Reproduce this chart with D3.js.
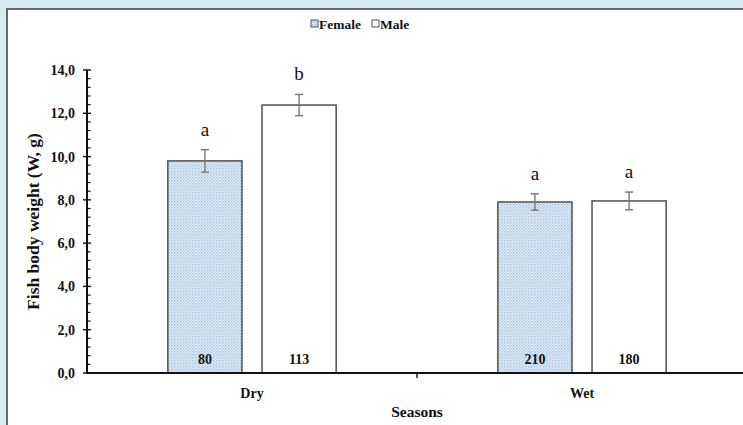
<!DOCTYPE html>
<html>
<head>
<meta charset="utf-8">
<script src="https://cdn.jsdelivr.net/npm/d3@7/dist/d3.min.js"></script>
<style>
  html, body { margin: 0; padding: 0; background: #d7ecf2; }
  svg { display: block; }
</style>
</head>
<body>
<svg id="chart" width="743" height="425"></svg>
<script>
// Fish body weight by season and sex
const seasons = ["Dry", "Wet"];
const sexes = ["Female", "Male"];
const meanWeight = { Female: [9.8, 7.9], Male: [12.38, 7.95] };
const stdError = { Female: [0.52, 0.38], Male: [0.49, 0.41] };
const sampleSize = { Female: [80, 210], Male: [113, 180] };
const groupLetters = { Female: ["a", "a"], Male: ["b", "a"] };
const yTicks = [0, 2, 4, 6, 8, 10, 12, 14];

const serif = "'Liberation Serif', 'Times New Roman', serif";
const ink = "#111";
const svg = d3.select("#chart");

// framed white panel
svg.append("rect").attr("x", 7).attr("y", 9).attr("width", 800).attr("height", 500)
  .attr("fill", "#fff").attr("stroke", "#3a3a3a").attr("stroke-width", 1.5);

// dotted fill for female bars
const defs = svg.append("defs");
const pat = defs.append("pattern").attr("id", "dots").attr("patternUnits", "userSpaceOnUse")
  .attr("width", 3).attr("height", 3);
pat.append("rect").attr("width", 3).attr("height", 3).attr("fill", "#e9f1fa");
pat.append("rect").attr("x", 0).attr("y", 0).attr("width", 1.5).attr("height", 1.5).attr("fill", "#9fbfe0");
pat.append("rect").attr("x", 1.5).attr("y", 1.5).attr("width", 1.5).attr("height", 1.5).attr("fill", "#b9d1ea");

const plotLeft = 87, plotRight = 747, plotTop = 70, plotBottom = 373;

const y = d3.scaleLinear().domain([0, 14]).range([plotBottom, plotTop]);
const x0 = d3.scaleBand().domain(seasons).range([plotLeft, plotRight])
  .paddingInner(0.49).paddingOuter(0.245);
const x1 = d3.scaleBand().domain(sexes).range([0, x0.bandwidth()]).paddingInner(0.213);

const fillOf = s => s === "Female" ? "url(#dots)" : "#fff";

// bars, error bars, labels
seasons.forEach((season, i) => {
  sexes.forEach(sex => {
    const m = meanWeight[sex][i], se = stdError[sex][i];
    const bx = x0(season) + x1(sex), bw = x1.bandwidth(), cx = bx + bw / 2;
    svg.append("rect").attr("x", bx).attr("y", y(m)).attr("width", bw)
      .attr("height", y(0) - y(m)).attr("fill", fillOf(sex))
      .attr("stroke", "#505050").attr("stroke-width", 1.5);
    const eb = svg.append("g").attr("stroke", "#777").attr("stroke-width", 1.4);
    eb.append("line").attr("x1", cx).attr("x2", cx).attr("y1", y(m + se)).attr("y2", y(m - se));
    eb.append("line").attr("x1", cx - 4).attr("x2", cx + 4).attr("y1", y(m + se)).attr("y2", y(m + se));
    eb.append("line").attr("x1", cx - 4).attr("x2", cx + 4).attr("y1", y(m - se)).attr("y2", y(m - se));
    svg.append("text").attr("x", cx).attr("y", y(m + se) - 14)
      .attr("text-anchor", "middle").attr("font-family", serif).attr("font-size", 19)
      .attr("fill", ink).text(groupLetters[sex][i]);
    svg.append("text").attr("x", cx).attr("y", plotBottom - 9)
      .attr("text-anchor", "middle").attr("font-family", serif).attr("font-size", 14)
      .attr("font-weight", "bold").attr("fill", ink).text(sampleSize[sex][i]);
  });
});

// y axis with minor ticks
const yAxis = d3.axisLeft(y).tickValues(yTicks).tickSize(0)
  .tickFormat(d => d3.format(".1f")(d).replace(".", ","));
const yg = svg.append("g").attr("transform", `translate(${plotLeft},0)`).call(yAxis);
yg.select(".domain").remove();
yg.selectAll("text").attr("x", -12).attr("font-family", serif).attr("font-size", 14)
  .attr("font-weight", "bold").attr("fill", ink);
const minor = d3.range(0, 14.001, 0.4).filter(v => Math.abs(v / 2 - Math.round(v / 2)) > 0.01);
svg.append("g").selectAll("line").data(minor).join("line")
  .attr("x1", plotLeft).attr("x2", plotLeft + 3.5).attr("y1", d => y(d)).attr("y2", d => y(d))
  .attr("stroke", "#111").attr("stroke-width", 1.2);
svg.append("g").selectAll("line").data(yTicks).join("line")
  .attr("x1", plotLeft - 4).attr("x2", plotLeft + 4).attr("y1", d => y(d)).attr("y2", d => y(d))
  .attr("stroke", "#111").attr("stroke-width", 1.4);
svg.append("line").attr("x1", plotLeft).attr("x2", plotLeft).attr("y1", plotTop).attr("y2", plotBottom + 1)
  .attr("stroke", "#111").attr("stroke-width", 2);

// x axis
svg.append("line").attr("x1", plotLeft - 1).attr("x2", 743).attr("y1", plotBottom).attr("y2", plotBottom)
  .attr("stroke", "#111").attr("stroke-width", 2);
const xTickPos = seasons.slice(1).map(s => x0(s) - x0.step() * x0.paddingInner() / 2);
svg.append("g").selectAll("line").data(xTickPos).join("line")
  .attr("x1", d => d).attr("x2", d => d).attr("y1", plotBottom).attr("y2", plotBottom + 5)
  .attr("stroke", "#111").attr("stroke-width", 1.4);
svg.append("g").selectAll("text").data(seasons).join("text")
  .attr("x", d => x0(d) + x0.bandwidth() / 2).attr("y", 398)
  .attr("text-anchor", "middle").attr("font-family", serif).attr("font-size", 14)
  .attr("font-weight", "bold").attr("fill", ink).text(d => d);

// axis titles
svg.append("text").attr("x", (plotLeft + plotRight) / 2).attr("y", 417)
  .attr("text-anchor", "middle").attr("font-family", serif).attr("font-size", 15.5)
  .attr("font-weight", "bold").attr("fill", ink).text("Seasons");
svg.append("text").attr("transform", `translate(39,${(plotTop + plotBottom) / 2}) rotate(-90)`)
  .attr("text-anchor", "middle").attr("font-family", serif).attr("font-size", 17.5)
  .attr("font-weight", "bold").attr("fill", ink).text("Fish body weight (W, g)");

// legend
const legendX = [311, 372];
sexes.forEach((s, i) => {
  svg.append("rect").attr("x", legendX[i]).attr("y", 20).attr("width", 7).attr("height", 7)
    .attr("fill", fillOf(s)).attr("stroke", "#555").attr("stroke-width", 1);
  svg.append("text").attr("x", legendX[i] + 8).attr("y", 28.5).attr("font-family", serif)
    .attr("font-size", 13.5).attr("font-weight", "bold").attr("fill", ink).text(s);
});
</script>
</body>
</html>
